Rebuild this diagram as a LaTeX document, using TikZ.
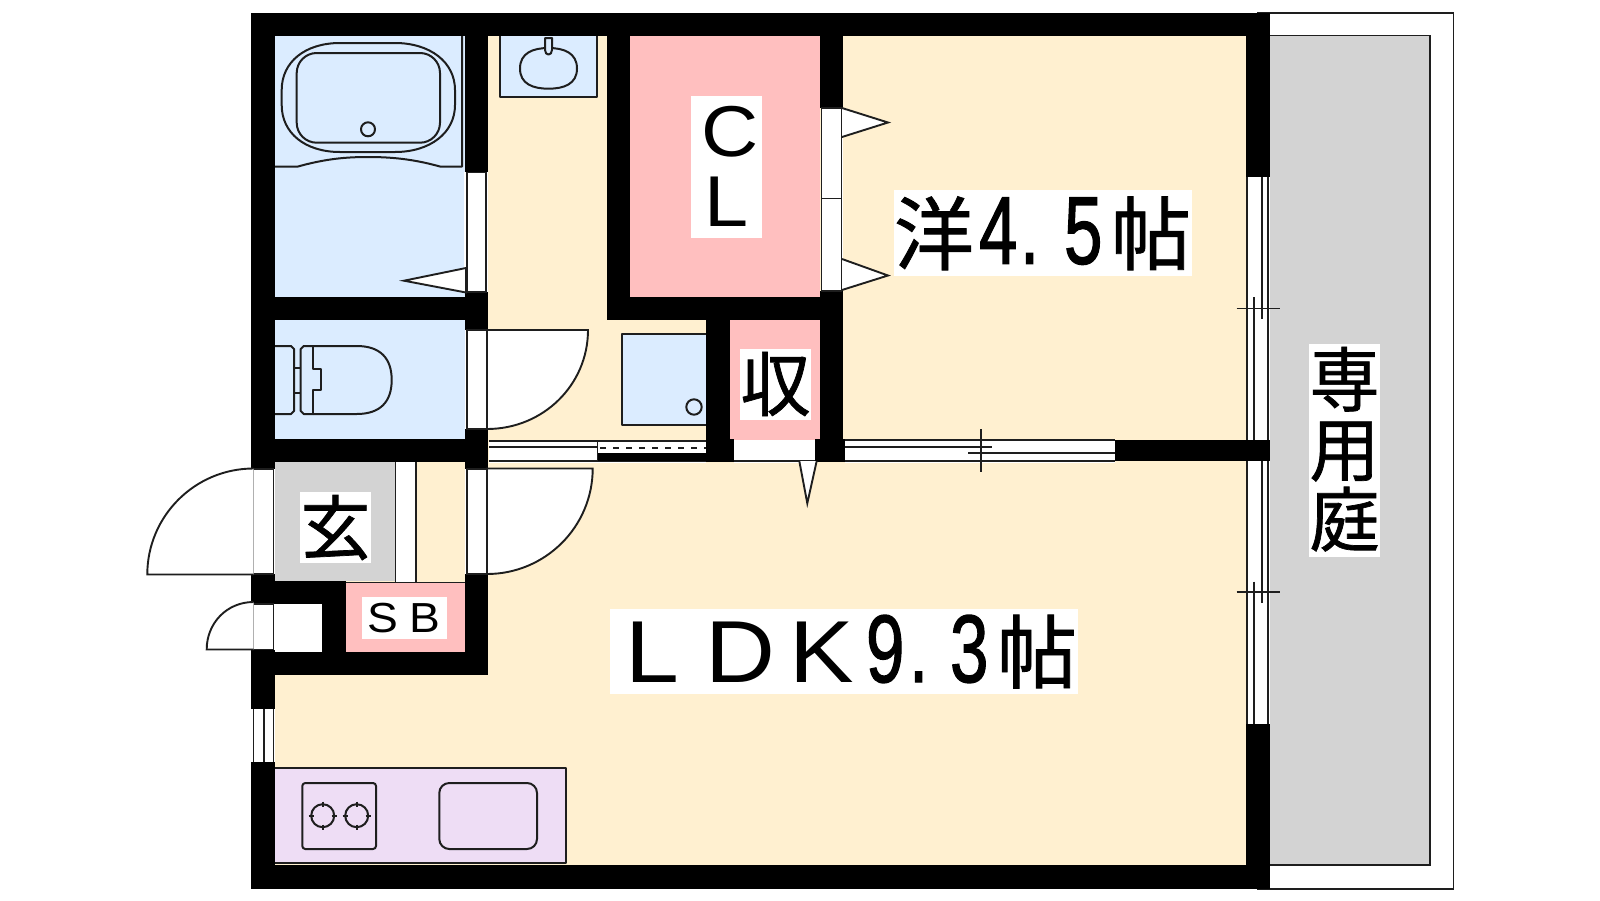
\documentclass[tikz,border=0pt]{standalone}
\usepackage{fontspec}
\usepackage{graphicx}
\setmainfont{Liberation Sans}
\newfontfamily\cjk[FakeBold=1]{Noto Sans CJK JP}
\newfontfamily\dgf[FakeBold=1.5]{Liberation Sans}
\definecolor{creamc}{HTML}{FFF0D0}
\definecolor{bluec}{HTML}{DBECFF}
\definecolor{pinkc}{HTML}{FFBFBF}
\definecolor{grayc}{HTML}{D3D3D3}
\definecolor{purplec}{HTML}{EEDDF5}
\definecolor{linec}{HTML}{1E1E1E}
% place content at x from the left of the label, raised by y
\newcommand{\putat}[3]{\rlap{\hspace*{#1pt}\raisebox{#2pt}{#3}}}
\newcommand{\kj}[2]{{\cjk\fontsize{#1}{#1}\selectfont #2}}
\newcommand{\lt}[2]{\scalebox{1.1}[1]{\fontsize{#1}{#1}\selectfont #2}}
\newcommand{\dg}[1]{\scalebox{.72}[1]{\dgf\fontsize{96}{96}\selectfont #1}}
\tikzset{
  wall/.style={fill=black,draw=none},
  win/.style={fill=white,draw=none},
  ln/.style={draw=linec,line width=1.8pt},
  fx/.style={draw=linec,line width=2pt,line join=round},
  doorleaf/.style={fill=white,draw=linec,line width=1.9pt},
  label/.style={fill=white,inner sep=0pt,outer sep=0pt,anchor=base west,text=black}
}
\begin{document}
\begin{tikzpicture}[x=1pt,y=-1pt]
\useasboundingbox (0,0) rectangle (1600,900);
\fill[white] (0,0) rectangle (1600,900);
% balcony
\draw[ln] (1257,13.3) -- (1453.5,13.3) -- (1453.5,888.7) -- (1257,888.7);
\fill[grayc] (1270,35.5) rectangle (1430,865);
\draw[ln] (1270,35.5) -- (1430,35.5) -- (1430,865) -- (1270,865);
% rooms
\fill[creamc] (275,36) rectangle (1246,865);
\fill[bluec] (275,36) rectangle (465,297);
\fill[bluec] (275,320) rectangle (465,439);
\fill[pinkc] (630,36) rectangle (820,297);
\fill[pinkc] (730,320) rectangle (820,440);
\fill[grayc] (275,462) rectangle (395,581);
\fill[pinkc] (346,583) rectangle (465,652);
\fill[white] (275,604) rectangle (322,652);
% walls
\fill[wall] (251,13) rectangle (1270,36);
\fill[wall] (251,865) rectangle (1270,889);
\fill[wall] (251,13) rectangle (275,469);
\fill[wall] (251,574) rectangle (275,709);
\fill[wall] (251,762) rectangle (275,889);
\fill[wall] (1246,13) rectangle (1270,177);
\fill[wall] (1246,724) rectangle (1270,889);
\fill[wall] (465,36) rectangle (488,172);
\fill[wall] (465,292) rectangle (488,330);
\fill[wall] (465,429) rectangle (488,469);
\fill[wall] (465,574) rectangle (488,675);
\fill[wall] (251,297) rectangle (488,320);
\fill[wall] (251,439) rectangle (488,462);
\fill[wall] (251,581) rectangle (346,604);
\fill[wall] (322,581) rectangle (346,652);
\fill[wall] (251,652) rectangle (488,675);
\fill[wall] (607,36) rectangle (630,320);
\fill[wall] (607,297) rectangle (843,320);
\fill[wall] (820,36) rectangle (843,108);
\fill[wall] (820,291) rectangle (843,440);
\fill[wall] (706,320) rectangle (730,462);
\fill[wall] (730,439) rectangle (734,462);
\fill[wall] (815,439) rectangle (845,462);
\fill[wall] (1115,440) rectangle (1270,461);
% bath door and CL doors
\fill[win] (464,172) rectangle (488,292);
\draw[ln] (467,172.5) rectangle (486,292);
\draw[doorleaf,line join=miter] (466,268) -- (404,280.7) -- (466,292.5) -- cycle;
\fill[win] (821,108) rectangle (843,291);
\draw[ln] (821.5,108) rectangle (841.5,291) (821.5,198.5) -- (841.5,198.5);
\draw[doorleaf,line join=miter] (842,108) -- (888,122.5) -- (842,137);
\draw[doorleaf,line join=miter] (842,259) -- (888,275.5) -- (842,290);
% toilet door
\fill[win] (465,330) rectangle (488,429);
\draw[ln] (467,330) rectangle (487,429);
\draw[doorleaf] (487,330) -- (588,330) .. controls (588,385) and (543,429) .. (487,429) -- cycle;
% hall door
\fill[win] (465,469) rectangle (488,574);
\draw[ln] (467,469) rectangle (487,574);
\draw[doorleaf] (487,468.5) -- (592.7,468.5) .. controls (592.7,527) and (545,574) .. (487,574) -- cycle;
% entrance doors
\fill[win] (251,469) rectangle (275,574);
\draw[ln] (253.5,469) rectangle (273.5,574);
\draw[doorleaf] (253.5,468.5) .. controls (195,468.5) and (147.3,516) .. (147.3,574.5) -- (253.5,574.5);
\fill[win] (251,604) rectangle (275,650);
\draw[ln] (253.5,604) rectangle (273.5,649.5);
\draw[doorleaf] (253.5,602) .. controls (227,602) and (206.7,623) .. (206.7,649.5) -- (253.5,649.5);
% kitchen window
\fill[win] (251,709) rectangle (275,762);
\draw[ln] (253.5,709) -- (253.5,762) (264,709) -- (264,762) (273.5,709) -- (273.5,762);
% genkan strip
\fill[win] (395,462) rectangle (416,582);
\draw[ln] (395.5,462) -- (395.5,582) (415.7,462) -- (415.7,582);
\draw[ln] (346,582.5) -- (465,582.5);
% band between rooms
\fill[win] (489,439.5) rectangle (706,463);
\draw[ln] (489,440.7) -- (706,440.7) (489,446.7) -- (597,446.7) (489,460.7) -- (706,460.7);
\draw[ln] (597.5,440.7) -- (597.5,460.7);
\draw[linec,line width=2pt,dash pattern=on 6pt off 7pt] (600,447.5) -- (706,447.5);
\fill[wall] (597.5,453) rectangle (706,461);
\fill[win] (734,439.5) rectangle (815,463);
\draw[ln] (734,460.7) -- (815,460.7);
\draw[doorleaf,line join=miter] (799.3,461) -- (807.3,503.3) -- (816.7,461);
\fill[win] (845,439.5) rectangle (1115,463);
\draw[ln] (845,440) -- (1115,440) (845,460.7) -- (1115,460.7)
  (845,447.3) -- (991.7,447.3) (968.3,453.3) -- (1115,453.3)
  (980.7,429) -- (980.7,471.7);
% garden windows
\fill[win] (1246,177) rectangle (1270,440);
\fill[win] (1246,461) rectangle (1270,724);
\draw[ln] (1247.2,177) -- (1247.2,440) (1267.7,177) -- (1267.7,440)
  (1261.7,177) -- (1261.7,319) (1254.3,297) -- (1254.3,440)
  (1236.7,308.5) -- (1280,308.5);
\draw[ln] (1247.2,461) -- (1247.2,724) (1267.7,461) -- (1267.7,724)
  (1261.7,461) -- (1261.7,603) (1254.3,581.7) -- (1254.3,724)
  (1236.5,592) -- (1280,592);
% bath fixtures
\draw[fx] (275,166.5) -- (298,166.5) .. controls (325,159) and (345,157) .. (368,157)
  .. controls (391,157) and (413,159) .. (440,166.5) -- (462,166.5) -- (462,36);
\draw[fx] (340,43) -- (395,43) .. controls (430,43) and (455,62) .. (455,90) -- (455,105)
  .. controls (455,133) and (430,152) .. (395,152) -- (340,152)
  .. controls (305,152) and (281.7,133) .. (281.7,105) -- (281.7,90)
  .. controls (281.7,62) and (305,43) .. (340,43) -- cycle;
\draw[fx,rounded corners=20pt] (296.7,53) rectangle (440,142.7);
\draw[fx] (368,129.3) circle[radius=7pt];
% wash basin
\draw[fx,fill=bluec] (500,36) -- (500,96.7) -- (597,96.7) -- (597,36);
\draw[fx] (520,68.5) .. controls (520,53) and (533,48) .. (548.5,48)
  .. controls (564,48) and (577,53) .. (577,68.5)
  .. controls (577,84) and (564,88.7) .. (548.5,88.7)
  .. controls (533,88.7) and (520,84) .. (520,68.5) -- cycle;
\draw[fx,fill=bluec] (545,38) -- (552,38) -- (552,50) .. controls (552,56) and (545,56) .. (545,50) -- cycle;
% washer pan
\draw[fx,fill=bluec] (706,334.3) -- (621.7,334.3) -- (621.7,424.7) -- (706,424.7);
\draw[fx] (694,407) circle[radius=7.7pt];
% toilet
\draw[fx] (275,346) -- (291,346) -- (294,349) -- (294,411) -- (291,414) -- (275,414);
\draw[fx] (294,368) -- (300.7,368) (294,392.7) -- (300.7,392.7);
\draw[fx] (313,346) -- (303.7,346) -- (300.7,349) -- (300.7,411) -- (303.7,414) -- (313,414);
\draw[fx] (313,346) -- (313,369) -- (321.3,369) -- (321.3,390) -- (313,390) -- (313,414);
\draw[fx] (313,346) -- (356.7,346) .. controls (380,346) and (391.7,358) .. (391.7,380)
  .. controls (391.7,402) and (380,414) .. (356.7,414) -- (313,414);
% kitchen
\draw[fx,fill=purplec] (275,768.3) -- (565.7,768.3) -- (565.7,863.3) -- (275,863.3);
\draw[fx,rounded corners=3pt] (302.3,783) rectangle (376,849);
\draw[fx,rounded corners=10pt] (439.3,783) rectangle (537,849);
\foreach \cx in {322.7,356.7}{
  \draw[fx] (\cx,815.7) circle[radius=11.5pt];
  \draw[fx] (\cx-14,815.7) -- (\cx-9,815.7) (\cx+9,815.7) -- (\cx+14,815.7)
            (\cx,801.7) -- (\cx,806.7) (\cx,824.7) -- (\cx,829.7);
}
% labels
\node[label,text height=73.7pt,text depth=12pt] (western) at (894,263.7) {\makebox[298pt][l]{%
  \putat{0}{0}{\kj{80}{洋}}\putat{85}{0}{\dg{4}}\putat{126}{0}{\dg{.}}\putat{170}{0}{\dg{5}}\putat{217}{0}{\kj{80}{帖}}}};
\node[label,text height=73pt,text depth=12pt] (ldk) at (610,682) {\makebox[468pt][l]{%
  \putat{15}{0}{\lt{88}{L}}\putat{95}{0}{\lt{88}{D}}\putat{179}{0}{\lt{88}{K}}\putat{256}{0}{\dg{9}}\putat{299}{0}{\dg{.}}\putat{340}{0}{\dg{3}}\putat{387}{0}{\kj{80}{帖}}}};
\node[label,text height=130.7pt,text depth=11pt] (closet) at (691,226.7) {\makebox[71pt][l]{%
  \putat{10}{70}{\lt{72}{C}}\putat{13}{0}{\lt{72}{L}}}};
\node[label,text height=61.5pt,text depth=9.5pt] (storage) at (740,410.5) {\makebox[71pt][l]{\putat{0.5}{0}{\kj{70}{収}}}};
\node[label,text height=62pt,text depth=9pt] (genkan) at (300,554) {\makebox[71pt][l]{\putat{0.5}{0}{\kj{70}{玄}}}};
\node[label,text height=35.8pt,text depth=6.5pt] (shoebox) at (362,632.5) {\makebox[85pt][l]{%
  \putat{5}{0}{\lt{42}{S}}\putat{47}{0}{\lt{42}{B}}}};
\node[label,text height=201.6pt,text depth=11pt] (garden) at (1309,545.6) {\makebox[71pt][l]{%
  \putat{0.5}{140}{\kj{70}{専}}\putat{0.5}{70}{\kj{70}{用}}\putat{0.5}{0}{\kj{70}{庭}}}};
\end{tikzpicture}
\end{document}
